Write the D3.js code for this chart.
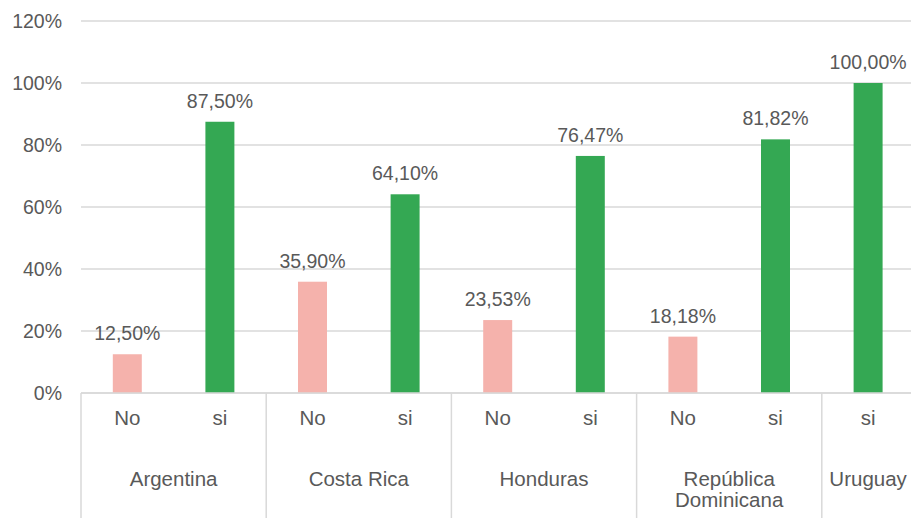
<!DOCTYPE html>
<html>
<head>
<meta charset="utf-8">
<script src="https://cdn.jsdelivr.net/npm/d3@7"></script>
<style>
  body { margin: 0; background: #fff; }
  svg { display: block; font-family: "Liberation Sans", Arial, sans-serif; }
  text { fill: #595959; }
</style>
</head>
<body>
<div id="chart"></div>
<script>
// chart values
const countries = ["Argentina", "Costa Rica", "Honduras", "República Dominicana", "Uruguay"];
const noValues = [12.5, 35.9, 23.53, 18.18, null];
const siValues = [87.5, 64.1, 76.47, 81.82, 100];
const answerLabels = ["No", "si"];
const yTicks = [0, 20, 40, 60, 80, 100, 120];

const width = 911;
const height = 518;
const left = 81;
const step = 92.6;

const colors = { No: "#f5b2ac", si: "#34a853" };

// flat list of slots, skipping missing answers (Uruguay has no "No")
const slots = [];
countries.forEach((c, i) => {
  [noValues[i], siValues[i]].forEach((v, j) => {
    if (v !== null) slots.push({ country: c, answer: answerLabels[j], value: v, key: c + "|" + answerLabels[j] });
  });
});

const svg = d3.select("#chart").append("svg")
  .attr("width", width)
  .attr("height", height);

const x = d3.scaleBand()
  .domain(slots.map(d => d.key))
  .range([left, left + step * slots.length])
  .paddingInner(0.687)
  .paddingOuter(0.687 / 2);

const y = d3.scaleLinear().domain([0, 120]).range([393, 21]);

// gridlines
svg.selectAll(".grid")
  .data(yTicks)
  .join("line")
  .attr("class", "grid")
  .attr("x1", left)
  .attr("x2", width)
  .attr("y1", d => y(d))
  .attr("y2", d => y(d))
  .attr("stroke", "#d9d9d9")
  .attr("stroke-width", 1.5);

// y tick labels
svg.selectAll(".ytick")
  .data(yTicks)
  .join("text")
  .attr("class", "ytick")
  .attr("x", 62)
  .attr("y", d => y(d))
  .attr("dy", "0.35em")
  .attr("text-anchor", "end")
  .style("font-size", "19.5px")
  .text(d => d + "%");

// bars
svg.selectAll(".bar")
  .data(slots)
  .join("rect")
  .attr("class", "bar")
  .attr("x", d => x(d.key))
  .attr("width", x.bandwidth())
  .attr("y", d => y(d.value))
  .attr("height", d => y(0) - y(d.value))
  .attr("fill", d => colors[d.answer]);

// value labels
const fmt = v => v.toFixed(2).replace(".", ",") + "%";
svg.selectAll(".val")
  .data(slots)
  .join("text")
  .attr("class", "val")
  .attr("x", d => x(d.key) + x.bandwidth() / 2)
  .attr("y", d => y(d.value) - 14)
  .attr("text-anchor", "middle")
  .style("font-size", "19.5px")
  .text(d => fmt(d.value));

// answer labels under bars
svg.selectAll(".ans")
  .data(slots)
  .join("text")
  .attr("class", "ans")
  .attr("x", d => x(d.key) + x.bandwidth() / 2)
  .attr("y", 425)
  .attr("text-anchor", "middle")
  .style("font-size", "20.5px")
  .text(d => d.answer);

// country groups: separators and labels
const groups = countries.map(c => {
  const ks = slots.filter(d => d.country === c);
  const x0 = x(ks[0].key) - x.step() * x.paddingInner() / 2;
  const x1 = x(ks[ks.length - 1].key) + x.bandwidth() + x.step() * x.paddingInner() / 2;
  return { country: c, x0, x1 };
});

svg.append("line")
  .attr("x1", left).attr("x2", width)
  .attr("y1", y(0)).attr("y2", y(0))
  .attr("stroke", "#d9d9d9")
  .attr("stroke-width", 1.5);

svg.selectAll(".sep")
  .data(groups.map(g => g.x0).concat([groups[groups.length - 1].x1]))
  .join("line")
  .attr("class", "sep")
  .attr("x1", d => d).attr("x2", d => d)
  .attr("y1", y(0)).attr("y2", height)
  .attr("stroke", "#d9d9d9")
  .attr("stroke-width", 1.5);

const countryLabels = svg.selectAll(".country")
  .data(groups)
  .join("text")
  .attr("class", "country")
  .attr("x", d => (d.x0 + d.x1) / 2)
  .attr("y", 486)
  .attr("text-anchor", "middle")
  .style("font-size", "20.5px");

countryLabels.each(function (d) {
  const words = d.country === "República Dominicana" ? ["República", "Dominicana"] : [d.country];
  d3.select(this).selectAll("tspan")
    .data(words)
    .join("tspan")
    .attr("x", (d.x0 + d.x1) / 2)
    .attr("dy", (w, i) => (i === 0 ? 0 : 21))
    .text(w => w);
});
</script>
</body>
</html>
